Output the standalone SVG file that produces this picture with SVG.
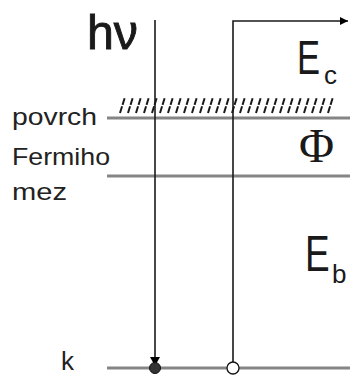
<svg xmlns="http://www.w3.org/2000/svg" width="350" height="376" viewBox="0 0 350 376">
<style>
.lvl{stroke:#858585;stroke-width:3;fill:none}
.ray{stroke:#1a1a1a;stroke-width:1.6;fill:none}
.hatch{stroke:#1a1a1a;stroke-width:2;stroke-dasharray:7 1.5}
.lab{font-family:"Liberation Sans",Arial,sans-serif;fill:#222}
.sym{font-family:"Liberation Sans",Arial,sans-serif;fill:#1a1a1a}
</style>
<defs>
<marker id="arr" viewBox="0 0 10 10" refX="10" refY="5" markerWidth="8" markerHeight="9" markerUnits="userSpaceOnUse" orient="auto">
<path d="M0,0 L10,5 L0,10 z" fill="#000"/>
</marker>
</defs>
<g id="levels">
<g id="surface">
<line class="lvl" x1="107" y1="118" x2="350" y2="118"/>
<g id="hatching">
<path class="hatch" d="M120,113 l5,-16 M128,113 l5,-16 M136,113 l5,-16 M144,113 l5,-16 M152,113 l5,-16 M160,113 l5,-16 M168,113 l5,-16 M176,113 l5,-16 M184,113 l5,-16 M192,113 l5,-16 M200,113 l5,-16 M208,113 l5,-16 M216,113 l5,-16 M224,113 l5,-16 M232,113 l5,-16 M240,113 l5,-16 M248,113 l5,-16 M256,113 l5,-16 M264,113 l5,-16 M272,113 l5,-16 M280,113 l5,-16 M288,113 l5,-16 M296,113 l5,-16 M304,113 l5,-16 M312,113 l5,-16 M320,113 l5,-16 M328,113 l5,-16"/>
</g>
<text class="lab" x="12" y="125" font-size="24" textLength="85" lengthAdjust="spacingAndGlyphs">povrch</text>
</g>
<g id="fermi">
<line class="lvl" x1="107" y1="176" x2="350" y2="176"/>
<text class="lab" x="12" y="165" font-size="24" textLength="98" lengthAdjust="spacingAndGlyphs">Fermiho</text>
<text class="lab" x="12" y="200" font-size="24" textLength="55" lengthAdjust="spacingAndGlyphs">mez</text>
</g>
<g id="core">
<line class="lvl" x1="107" y1="368" x2="350" y2="368"/>
<text class="lab" x="61" y="370" font-size="26">k</text>
</g>
</g>
<g id="connectors">
<line class="ray" x1="155" y1="20" x2="155" y2="358"/>
<path d="M150,357 L160,357 L155,366 z" fill="#000"/>
<path class="ray" d="M233,368 L233,21 L348,21" marker-end="url(#arr)"/>
</g>
<g id="photon">
<text class="sym" x="87" y="49" font-size="48" stroke="#1a1a1a" stroke-width="0.9" textLength="51" lengthAdjust="spacingAndGlyphs">hν</text>
</g>
<g id="initial-state">
<circle cx="155" cy="368" r="5.5" fill="#333" stroke="#111" stroke-width="1"/>
</g>
<g id="final-state">
<circle cx="233" cy="368" r="6" fill="#fff" stroke="#111" stroke-width="1.3"/>
</g>
<g id="Ec">
<text class="sym" transform="translate(297,74) scale(0.72,1)" font-size="48">E</text>
<text class="sym" x="324" y="84" font-size="26">c</text>
</g>
<g id="phi">
<text x="299" y="162" font-family="'Liberation Serif','Times New Roman',serif" font-size="48" fill="#1a1a1a">Φ</text>
</g>
<g id="Eb">
<text class="sym" transform="translate(305,271) scale(0.74,1)" font-size="50">E</text>
<text class="sym" x="332" y="283" font-size="26">b</text>
</g>
</svg>
